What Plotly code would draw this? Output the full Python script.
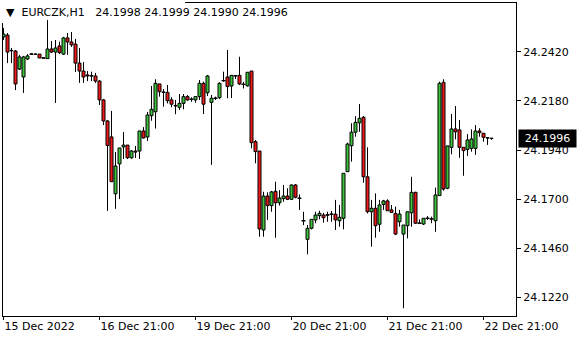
import plotly.graph_objects as go

symbol = "EURCZK,H1"
last_ohlc = "24.1998 24.1999 24.1990 24.1996"
last_price = 24.1996

open_ = [24.2493,24.2502,24.2427,24.2424,24.2336,24.2297,24.2385,24.2409,24.2409,24.2409,
         24.2390,24.2387,24.2434,24.2419,24.2449,24.2409,24.2488,24.2468,24.2458,24.2365,
         24.2326,24.2307,24.2303,24.2302,24.2277,24.2185,24.2082,24.2004,24.1726,24.1872,
         24.1955,24.1964,24.1902,24.1935,24.1935,24.2033,24.2004,24.2108,24.2127,24.2263,
         24.2224,24.2222,24.2185,24.2158,24.2149,24.2168,24.2201,24.2188,24.2185,24.2201,
         24.2266,24.2220,24.2173,24.2193,24.2196,24.2279,24.2297,24.2253,24.2303,24.2305,
         24.2261,24.2254,24.2326,24.1981,24.1935,24.1549,24.1715,24.1668,24.1738,24.1682,
         24.1702,24.1715,24.1699,24.1769,24.1704,24.1594,24.1503,24.1557,24.1598,24.1619,
         24.1622,24.1622,24.1626,24.1626,24.1594,24.1606,24.1834,24.1961,24.2027,24.2073,
         24.2100,24.1809,24.1638,24.1655,24.1577,24.1674,24.1691,24.1647,24.1630,24.1589,
         24.1529,24.1570,24.1633,24.1733,24.1582,24.1578,24.1606,24.1603,24.1594,24.1717,
         24.2271,24.1753,24.1953,24.2043,24.2038,24.1953,24.1943,24.1948,24.1948,24.2033,
         24.2022,24.2001,24.1998]
high = [24.2537,24.2512,24.2439,24.2429,24.2405,24.2400,24.2409,24.2412,24.2412,24.2409,
        24.2392,24.2576,24.2473,24.2478,24.2470,24.2493,24.2512,24.2517,24.2483,24.2439,
        24.2370,24.2326,24.2323,24.2317,24.2282,24.2189,24.2087,24.2131,24.1930,24.1950,
        24.2028,24.1964,24.1940,24.1960,24.2033,24.2052,24.2126,24.2253,24.2286,24.2263,
        24.2238,24.2258,24.2198,24.2185,24.2214,24.2214,24.2209,24.2198,24.2201,24.2282,
        24.2274,24.2307,24.2209,24.2201,24.2271,24.2323,24.2429,24.2307,24.2304,24.2396,
        24.2273,24.2321,24.2326,24.1989,24.1935,24.1736,24.1733,24.1740,24.1785,24.1744,
        24.1769,24.1753,24.1772,24.1774,24.1723,24.1638,24.1573,24.1601,24.1638,24.1643,
        24.1633,24.1638,24.1642,24.1696,24.1671,24.1826,24.1976,24.2071,24.2106,24.2165,
        24.2106,24.1953,24.1696,24.1728,24.1696,24.1696,24.1699,24.1671,24.1663,24.1647,
        24.1573,24.1638,24.1809,24.1736,24.1601,24.1606,24.1617,24.1614,24.1756,24.2274,
        24.2286,24.1960,24.2116,24.2155,24.2087,24.1953,24.2018,24.2041,24.2062,24.2046,
        24.2022,24.2003,24.1999]
low = [24.2478,24.2365,24.2365,24.2233,24.2331,24.2219,24.2380,24.2407,24.2407,24.2390,
       24.2387,24.2386,24.2414,24.2170,24.2409,24.2405,24.2405,24.2444,24.2321,24.2268,
       24.2268,24.2277,24.2277,24.2268,24.2160,24.2062,24.1642,24.1784,24.1652,24.1700,
       24.1896,24.1896,24.1897,24.1901,24.1896,24.1996,24.1984,24.2083,24.2045,24.2201,
       24.2152,24.2168,24.2149,24.2115,24.2136,24.2139,24.2181,24.2176,24.2171,24.2185,
       24.2116,24.2204,24.1867,24.2185,24.2189,24.2274,24.2193,24.2194,24.2287,24.2258,
       24.2241,24.2250,24.1948,24.1875,24.1516,24.1516,24.1598,24.1638,24.1511,24.1668,
       24.1687,24.1696,24.1696,24.1704,24.1647,24.1573,24.1430,24.1552,24.1582,24.1601,
       24.1585,24.1589,24.1589,24.1549,24.1565,24.1552,24.1834,24.1883,24.2005,24.2029,
       24.1780,24.1630,24.1467,24.1511,24.1540,24.1647,24.1643,24.1635,24.1524,24.1565,
       24.1166,24.1508,24.1565,24.1578,24.1582,24.1573,24.1598,24.1582,24.1540,24.1717,
       24.1741,24.1748,24.1919,24.1992,24.1902,24.1814,24.1911,24.1932,24.1916,24.2005,
       24.1981,24.1965,24.1990]
close = [24.2507,24.2419,24.2425,24.2263,24.2395,24.2395,24.2400,24.2409,24.2408,24.2390,
         24.2390,24.2434,24.2419,24.2439,24.2416,24.2488,24.2468,24.2454,24.2365,24.2326,
         24.2297,24.2302,24.2303,24.2277,24.2185,24.2082,24.1962,24.1785,24.1862,24.1950,
         24.1964,24.1902,24.1935,24.1930,24.2033,24.1999,24.2111,24.2139,24.2266,24.2225,
         24.2221,24.2181,24.2164,24.2155,24.2168,24.2201,24.2185,24.2188,24.2201,24.2266,
         24.2164,24.2302,24.2193,24.2193,24.2266,24.2279,24.2250,24.2305,24.2303,24.2263,
         24.2261,24.2320,24.1976,24.1932,24.1554,24.1715,24.1668,24.1735,24.1682,24.1705,
         24.1715,24.1699,24.1769,24.1709,24.1704,24.1594,24.1557,24.1601,24.1622,24.1630,
         24.1609,24.1622,24.1626,24.1598,24.1611,24.1826,24.1969,24.2027,24.2075,24.2095,
         24.1809,24.1638,24.1655,24.1570,24.1671,24.1691,24.1643,24.1635,24.1529,24.1627,
         24.1573,24.1638,24.1733,24.1582,24.1582,24.1606,24.1606,24.1603,24.1720,24.2266,
         24.1749,24.1960,24.2043,24.2029,24.1953,24.1937,24.1989,24.1994,24.2033,24.2025,
         24.2002,24.1998,24.1996]

x_tick_pos = [0, 24, 48, 72, 96, 120]
x_tick_text = ["15 Dec 2022", "16 Dec 21:00", "19 Dec 21:00",
               "20 Dec 21:00", "21 Dec 21:00", "22 Dec 21:00"]
y_tick_vals = [24.1220, 24.1460, 24.1700, 24.1940, 24.2180, 24.2420]

bars = list(range(len(open_)))

W, H = 580, 340
ML, MR, MT, MB = 2, 64, 2, 24
PW, PH = W - ML - MR, H - MT - MB

def px_x(p):
    return (p - ML) / PW

def px_y(p):
    return (H - MB - p) / PH

FONT = "DejaVu Sans"
GREEN = "#3cc43c"
RED = "#f01818"

# wicks: upper (body top -> high) and lower (low -> body bottom)
wx, wy = [], []
for i, (o, h, l, c) in enumerate(zip(open_, high, low, close)):
    top, bot = max(o, c), min(o, c)
    if h > top:
        wx += [i, i, None]
        wy += [top, h, None]
    if l < bot:
        wx += [i, i, None]
        wy += [l, bot, None]

body_base = [min(o, c) for o, c in zip(open_, close)]
body_len = [abs(c - o) for o, c in zip(open_, close)]
body_col = [GREEN if c > o else RED for o, c in zip(open_, close)]

doji_x = [i for i, (o, c) in enumerate(zip(open_, close)) if abs(c - o) < 0.00005]
doji_y = [close[i] for i in doji_x]

fig = go.Figure()
fig.add_trace(go.Scatter(x=wx, y=wy, mode="lines", line=dict(color="black", width=1),
                         hoverinfo="skip", connectgaps=False))
fig.add_trace(go.Bar(x=bars, y=body_len, base=body_base, width=0.75,
                     marker=dict(color=body_col, line=dict(color="black", width=1)),
                     hoverinfo="skip"))
fig.add_trace(go.Scatter(x=doji_x, y=doji_y, mode="markers",
                         marker=dict(symbol="line-ew", size=3,
                                     line=dict(color="black", width=1)),
                         hoverinfo="skip"))

fig.update_layout(
    width=W, height=H,
    margin=dict(l=ML, r=MR, t=MT, b=MB, pad=0),
    paper_bgcolor="white", plot_bgcolor="white",
    showlegend=False, barmode="overlay",
    font=dict(family=FONT, size=11, color="black"),
    xaxis=dict(
        range=[-0.375, 128.125],
        tickmode="array", tickvals=x_tick_pos, ticktext=x_tick_text,
        ticks="outside", ticklen=3, tickcolor="black", tickwidth=1,
        ticklabelposition="outside right",
        showgrid=False, zeroline=False,
        showline=True, linecolor="black", linewidth=1,
        tickfont=dict(family=FONT, size=11, color="black"),
    ),
    yaxis=dict(
        range=[24.11283, 24.26637], side="right",
        tickmode="array", tickvals=y_tick_vals, tickformat=".4f",
        ticks="outside", ticklen=4, tickcolor="black", tickwidth=1,
        showgrid=False, zeroline=False,
        showline=True, linecolor="black", linewidth=1,
        tickfont=dict(family=FONT, size=11, color="black"),
    ),
    shapes=[
        dict(type="line", xref="paper", yref="paper",
             x0=px_x(2.5), x1=px_x(2.5), y0=0, y1=px_y(23),
             line=dict(color="black", width=1)),
        dict(type="line", xref="paper", yref="paper",
             x0=px_x(185), x1=1, y0=px_y(2.5), y1=px_y(2.5),
             line=dict(color="black", width=1)),
    ],
    annotations=[
        dict(xref="paper", yref="paper", x=px_x(4), y=px_y(13),
             xanchor="left", yanchor="middle", showarrow=False,
             text="\u25BC\u00a0\u00a0" + symbol + "\u00a0\u00a0\u00a0" + last_ohlc,
             font=dict(family=FONT, size=11, color="black")),
        dict(xref="paper", yref="y", x=1, y=last_price,
             xanchor="left", yanchor="middle", xshift=2, showarrow=False,
             text=f"{last_price:.4f}", bgcolor="black", width=55, height=15,
             font=dict(family=FONT, size=11, color="white")),
    ],
)

fig.write_html("out.html")
